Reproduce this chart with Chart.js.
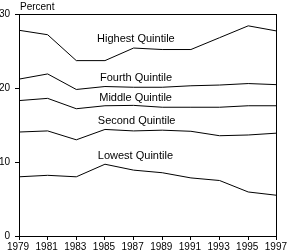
<!DOCTYPE html>
<html>
<head>
<meta charset="utf-8">
<script src="https://cdn.jsdelivr.net/npm/chart.js@4/dist/chart.umd.min.js"></script>
<style>
  html, body { margin: 0; padding: 0; background: #fff; }
  canvas { display: block; }
</style>
</head>
<body>
<canvas id="c" width="289" height="252"></canvas>
<script>
// shares of income by quintile, odd years 1979-1997
const years   = [1979, 1981, 1983, 1985, 1987, 1989, 1991, 1993, 1995, 1997];
const highest = [27.8, 27.2, 23.7, 23.7, 25.4, 25.2, 25.2, 26.8, 28.4, 27.7];
const fourth  = [21.2, 21.9, 19.8, 20.2, 20.1, 20.1, 20.3, 20.4, 20.6, 20.45];
const middle  = [18.3, 18.6, 17.2, 17.6, 17.65, 17.4, 17.4, 17.4, 17.6, 17.6];
const second  = [14.05, 14.2, 13.0, 14.4, 14.2, 14.3, 14.15, 13.55, 13.65, 13.9];
const lowest  = [8.0, 8.2, 8.0, 9.7, 8.9, 8.55, 7.85, 7.5, 5.95, 5.5];
const seriesNames = ['Highest Quintile', 'Fourth Quintile', 'Middle Quintile', 'Second Quintile', 'Lowest Quintile'];
const yTicks = [0, 10, 20, 30];

const FONT = 'Liberation Sans, Arial, sans-serif';

// where each series name sits, in data units
const labelSpots = [
  { x: 1984.45, y: 26.6 },
  { x: 1984.65, y: 21.35 },
  { x: 1984.6, y: 18.7 },
  { x: 1984.5, y: 15.6 },
  { x: 1984.5, y: 10.85 }
];

const frameAndText = {
  id: 'frameAndText',
  afterDraw(chart) {
    const { ctx, chartArea: a, scales: { x, y } } = chart;
    ctx.save();
    ctx.strokeStyle = '#000';
    ctx.lineWidth = 1;
    ctx.strokeRect(Math.round(a.left) + 0.5, Math.round(a.top) + 0.5,
                   Math.round(a.right - a.left) - 1, Math.round(a.bottom - a.top));
    ctx.fillStyle = '#000';
    ctx.font = '11px ' + FONT;
    ctx.textBaseline = 'middle';
    ctx.textAlign = 'left';
    seriesNames.forEach((n, i) => {
      const p = labelSpots[i];
      ctx.fillText(n, x.getPixelForValue(p.x), y.getPixelForValue(p.y));
    });
    ctx.font = '10px ' + FONT;
    ctx.fillText('Percent', a.left + 1, a.top - 7);
    ctx.restore();
  }
};

const toPts = arr => arr.map((v, i) => ({ x: years[i], y: v }));

new Chart(document.getElementById('c'), {
  type: 'line',
  data: {
    datasets: [highest, fourth, middle, second, lowest].map((d, i) => ({
      label: seriesNames[i],
      data: toPts(d),
      borderColor: '#000',
      borderWidth: 1,
      pointRadius: 0,
      tension: 0,
      fill: false
    }))
  },
  options: {
    responsive: false,
    animation: false,
    devicePixelRatio: 1,
    layout: { padding: { top: 14, right: 12, left: 0, bottom: 0 } },
    plugins: { legend: { display: false }, tooltip: { enabled: false } },
    scales: {
      x: {
        type: 'linear', min: 1979, max: 1997,
        afterBuildTicks: s => { s.ticks = years.map(v => ({ value: v })); },
        afterFit: s => { s.height = 16; },
        grid: { drawOnChartArea: false, drawTicks: true, tickLength: 4, color: '#000' },
        border: { display: true, color: '#000' },
        ticks: { color: '#000', font: { family: FONT, size: 10 }, padding: 1, maxRotation: 0, autoSkip: false,
                 labelOffset: -1, callback: v => String(v) }
      },
      y: {
        min: 0, max: 30,
        afterBuildTicks: s => { s.ticks = yTicks.map(v => ({ value: v })); },
        afterFit: s => { s.width = 19; },
        grid: { drawOnChartArea: false, drawTicks: true, tickLength: 4, color: '#000' },
        border: { display: true, color: '#000' },
        ticks: { color: '#000', font: { family: FONT, size: 10 }, padding: 5 }
      }
    }
  },
  plugins: [frameAndText]
});
</script>
</body>
</html>
